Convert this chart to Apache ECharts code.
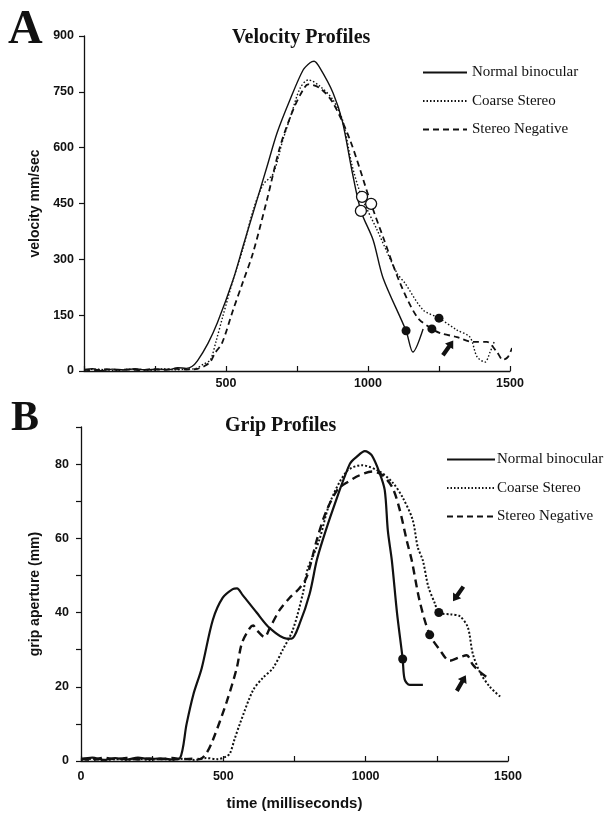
<!DOCTYPE html>
<html>
<head>
<meta charset="utf-8">
<script src="https://cdn.jsdelivr.net/npm/echarts@6/dist/echarts.min.js"></script>
<style>
html,body{margin:0;padding:0;background:#fff;}
#chart{width:610px;height:817px;}
</style>
</head>
<body>
<div id="chart"></div>
<script>
// ---- Data (time in ms) ----
const seriesNames = ['Normal binocular', 'Coarse Stereo', 'Stereo Negative'];

// Panel A: velocity (mm/sec)
const velNormal = [[0,4],[30,6],[60,1],[100,5],[140,3],[180,6],[220,3],[260,5],[300,4],[330,9],[360,7],[380,12],[400,28],[437,75],[470,130],[525,245],[560,335],[595,424],[644,548],[680,640],[725,728],[771,808],[796,828],[810,832],[830,815],[877,747],[910,670],[943,540],[975,430],[1018,352],[1053,250],[1134,108],[1158,51],[1194,113]];
const velCoarse = [[0,2],[40,5],[80,3],[120,1],[160,5],[200,4],[240,2],[280,6],[320,3],[360,5],[390,6],[420,18],[445,30],[465,80],[490,150],[525,245],[560,330],[595,430],[630,500],[666,530],[700,620],[730,690],[761,760],[790,782],[831,765],[877,728],[912,670],[943,555],[979,465],[1032,379],[1102,263],[1130,236],[1194,164],[1250,142],[1313,110],[1359,91],[1384,38],[1412,24],[1430,51],[1445,80]];
const velStereoNeg = [[0,3],[40,2],[80,5],[120,3],[160,4],[200,2],[240,5],[280,3],[320,6],[360,4],[400,6],[426,14],[445,25],[461,48],[486,75],[525,164],[560,240],[595,317],[644,459],[690,602],[736,701],[771,755],[789,770],[831,760],[877,720],[937,620],[1011,449],[1053,360],[1113,236],[1173,145],[1225,113],[1254,102],[1313,91],[1370,78],[1419,78],[1454,51],[1475,30],[1493,38],[1507,62]];
const velOpenMarks = [[975,430],[979,468],[1011,449]];
const velFilledMarks = [[1134,108],[1250,142],[1225,113]];
const velArrow = [1282,62];

// Panel B: grip aperture (mm)
const gripNormal = [[0,0.5],[40,0.9],[80,0.3],[120,0.8],[160,0.4],[200,0.9],[240,0.5],[280,0.7],[320,0.4],[348,0.8],[371,10],[395,18],[424,25],[463,38],[498,44],[533,46.3],[548,46.5],[568,44.7],[617,40],[663,35.8],[722,33],[740,33],[768,37],[803,45],[828,54],[849,59.5],[884,67.6],[944,80],[969,82],[997,83.5],[1021,82.4],[1049,77.6],[1067,73],[1078,62],[1092,54],[1110,40],[1130,27.5],[1137,22],[1155,20.5],[1201,20.5]];
const gripCoarse = [[0,0.3],[40,0.6],[80,0.2],[120,0.5],[160,0.3],[200,0.6],[240,0.3],[280,0.5],[320,0.3],[360,0.6],[400,0.3],[440,0.8],[480,0.5],[510,1.2],[523,2],[540,6],[558,10],[604,19],[640,22.5],[674,25],[709,30],[744,35.3],[779,45],[797,52],[814,55],[839,60],[874,69.5],[933,78],[986,79.7],[1049,78],[1095,75],[1130,71],[1165,65],[1183,57.6],[1201,54],[1220,47],[1243,42.5],[1257,40],[1300,39.5],[1331,39],[1359,36],[1376,29],[1401,24],[1436,20],[1478,17]];
const gripStereoNeg = [[0,0.6],[40,0.3],[80,0.9],[120,0.5],[160,0.8],[200,0.4],[240,0.7],[280,0.5],[320,0.8],[360,0.5],[395,0.6],[417,0.5],[440,2],[463,5.6],[512,16],[547,25],[565,31.7],[593,35.8],[605,36.5],[617,35.3],[645,33.4],[663,35.8],[698,40.7],[733,44],[768,46.6],[793,49.6],[830,60],[860,67],[900,73],[933,75],[979,77],[1025,78],[1060,77],[1095,73.5],[1120,67.6],[1144,59.5],[1162,54],[1190,43],[1225,34],[1260,30],[1295,27],[1331,28],[1355,28.5],[1376,26],[1401,24],[1436,22]];
const gripFilledMarks = [[1130,27.5],[1257,40],[1225,34]];
const gripArrowDown = [1325,45];
const gripArrowUp = [1336,21];

const xTicksA = [500, 1000, 1500];
const xTicksB = [0, 500, 1000, 1500];
const yTicksB = [0, 20, 40, 60, 80];

// ---- Styling ----
const INK = '#111';
const SANS = 'Liberation Sans, Arial, sans-serif';
const SERIF = 'Liberation Serif, Times New Roman, serif';
const ARROW = 'path://M6,0L12,8L8.5,8L8.5,20L3.5,20L3.5,8L0,8Z';

function axisCommon() {
  return {
    axisLine: { show: true, lineStyle: { color: INK, width: 1.3 } },
    splitLine: { show: false },
    axisLabel: { color: INK, fontFamily: SANS, fontWeight: 'bold', fontSize: 12.5 },
    nameTextStyle: { color: INK, fontFamily: SANS, fontWeight: 'bold' }
  };
}

function mk(coord, open) {
  return { coord: coord, symbol: 'circle', symbolSize: open ? 11 : 9,
    itemStyle: open ? { color: '#fff', borderColor: INK, borderWidth: 1.3 } : { color: INK } };
}
function arrow(coord, rot) {
  return { coord: coord, symbol: ARROW, symbolSize: [10, 18], symbolRotate: rot, itemStyle: { color: INK } };
}

const lineA = [
  { type: 'solid', width: 1.4 },
  { type: [1.5, 2], width: 1.4 },
  { type: [6, 4], width: 1.8 }
];
const lineB = [
  { type: 'solid', width: 2.2 },
  { type: [2, 2], width: 2 },
  { type: [8, 5], width: 2.4 }
];

function lineSeries(name, data, xi, style, markData) {
  return {
    name: name, type: 'line', xAxisIndex: xi, yAxisIndex: xi, data: data,
    showSymbol: false, symbol: 'none', smooth: 0.3, animation: false,
    lineStyle: Object.assign({ color: INK }, style),
    itemStyle: { color: INK },
    markPoint: markData ? { label: { show: false }, silent: true, animation: false, data: markData } : undefined,
    z: 3
  };
}

const legendCommon = {
  data: seriesNames, orient: 'vertical', itemHeight: 14, itemGap: 13.5, selectedMode: false,
  itemStyle: { opacity: 0 },
  lineStyle: { width: 2 },
  textStyle: { fontFamily: SERIF, fontSize: 15, color: INK }
};

const option = {
  backgroundColor: '#fff',
  animation: false,
  title: [
    { text: 'A', left: 3, top: 2, textStyle: { fontFamily: SERIF, fontWeight: 'bold', fontSize: 48, color: INK } },
    { text: 'B', left: 6, top: 393, textStyle: { fontFamily: SERIF, fontWeight: 'bold', fontSize: 42, color: INK } },
    { text: 'Velocity Profiles', left: 227, top: 23, textStyle: { fontFamily: SERIF, fontWeight: 'bold', fontSize: 20, color: INK } },
    { text: 'Grip Profiles', left: 220, top: 411, textStyle: { fontFamily: SERIF, fontWeight: 'bold', fontSize: 20, color: INK } }
  ],
  legend: [
    Object.assign({}, legendCommon, { left: 417, top: 60, itemWidth: 44 }),
    Object.assign({}, legendCommon, { left: 441, top: 447, itemWidth: 48,
      textStyle: { fontFamily: SERIF, fontSize: 15, color: INK, padding: [0,0,0,-3] } })
  ],
  grid: [
    { left: 84, top: 36, width: 426, height: 335 },
    { left: 81, top: 427, width: 427, height: 334 }
  ],
  xAxis: [
    Object.assign(axisCommon(), {
      gridIndex: 0, type: 'value', min: 0, max: 1500, interval: 250,
      axisTick: { show: true, inside: true, length: 5, lineStyle: { color: INK, width: 1.2 } },
      axisLabel: Object.assign(axisCommon().axisLabel, { margin: 6,
        formatter: v => xTicksA.includes(v) ? String(v) : '' })
    }),
    Object.assign(axisCommon(), {
      gridIndex: 1, type: 'value', min: 0, max: 1500, interval: 250,
      name: 'time (milliseconds)', nameLocation: 'middle', nameGap: 35,
      nameTextStyle: { color: INK, fontFamily: SANS, fontWeight: 'bold', fontSize: 15 },
      axisTick: { show: true, inside: true, length: 5, lineStyle: { color: INK, width: 1.2 } },
      axisLabel: Object.assign(axisCommon().axisLabel, { margin: 9,
        formatter: v => xTicksB.includes(v) ? String(v) : '' })
    })
  ],
  yAxis: [
    Object.assign(axisCommon(), {
      gridIndex: 0, type: 'value', min: 0, max: 900, interval: 150,
      name: 'velocity mm/sec', nameLocation: 'middle', nameGap: 36,
      nameTextStyle: { color: INK, fontFamily: SANS, fontWeight: 'bold', fontSize: 14 },
      axisTick: { show: true, inside: false, length: 5, lineStyle: { color: INK, width: 1.2 } },
      axisLabel: Object.assign(axisCommon().axisLabel, { margin: 10 })
    }),
    Object.assign(axisCommon(), {
      gridIndex: 1, type: 'value', min: 0, max: 90, interval: 10,
      name: 'grip aperture (mm)', nameLocation: 'middle', nameGap: 39,
      nameTextStyle: { color: INK, fontFamily: SANS, fontWeight: 'bold', fontSize: 14 },
      axisTick: { show: true, inside: false, length: 5, lineStyle: { color: INK, width: 1.2 } },
      axisLabel: Object.assign(axisCommon().axisLabel, { margin: 12,
        formatter: v => yTicksB.includes(v) ? String(v) : '' })
    })
  ],
  series: [
    lineSeries(seriesNames[0], velNormal, 0, lineA[0], [mk(velOpenMarks[0], true), mk(velFilledMarks[0], false)]),
    lineSeries(seriesNames[1], velCoarse, 0, lineA[1], [mk(velOpenMarks[1], true), mk(velFilledMarks[1], false)]),
    lineSeries(seriesNames[2], velStereoNeg, 0, lineA[2], [mk(velOpenMarks[2], true), mk(velFilledMarks[2], false), arrow(velArrow, -35)]),
    lineSeries(seriesNames[0], gripNormal, 1, lineB[0], [mk(gripFilledMarks[0], false)]),
    lineSeries(seriesNames[1], gripCoarse, 1, lineB[1], [mk(gripFilledMarks[1], false), arrow(gripArrowDown, 145)]),
    lineSeries(seriesNames[2], gripStereoNeg, 1, lineB[2], [mk(gripFilledMarks[2], false), arrow(gripArrowUp, -30)])
  ]
};

const chart = echarts.init(document.getElementById('chart'), null, { renderer: 'canvas' });
chart.setOption(option);
</script>
</body>
</html>
